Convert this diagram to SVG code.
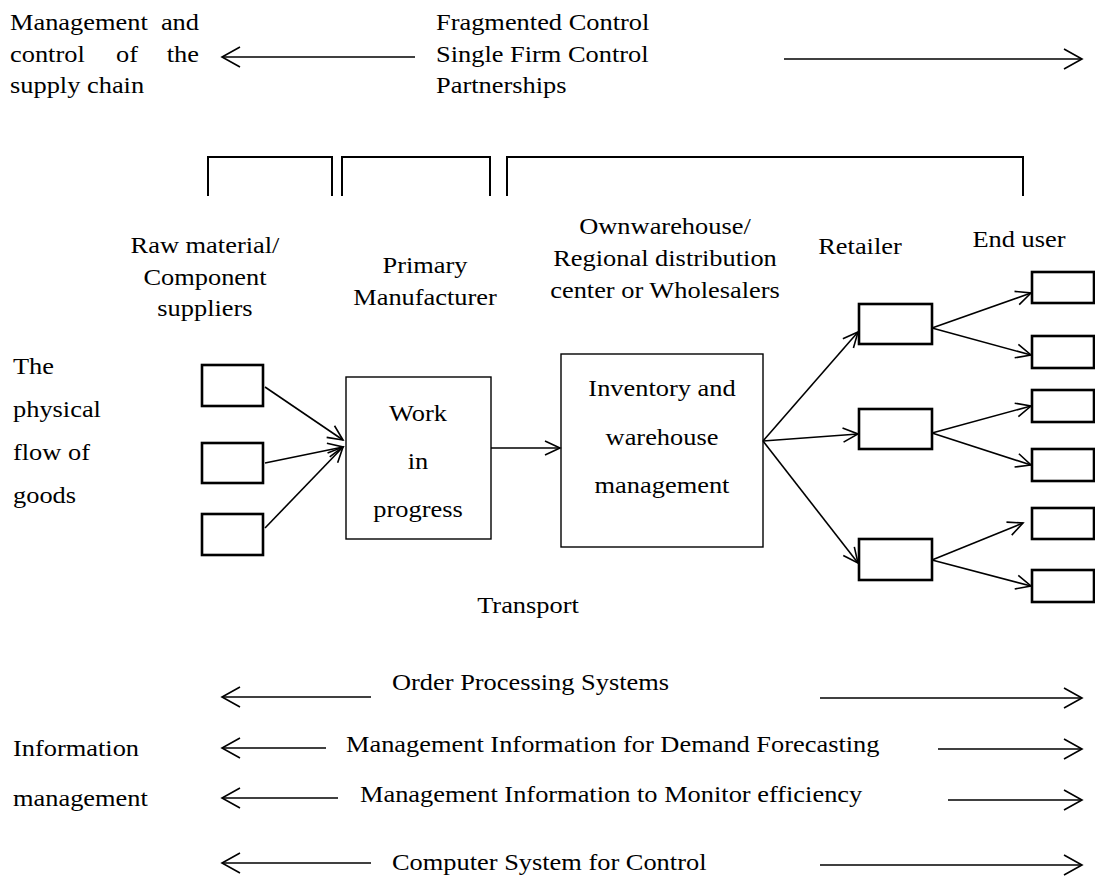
<svg xmlns="http://www.w3.org/2000/svg" width="1095" height="878" viewBox="0 0 1095 878">
<style>
text{font-family:"Liberation Serif","Times New Roman",serif;font-size:24px;fill:#000}
.m{text-anchor:middle}
.e{text-anchor:end}
.line{stroke:#000;stroke-width:1.6;fill:none}
.big{stroke:#000;stroke-width:1.6;fill:none}
.brk{stroke:#000;stroke-width:2;fill:none}
.sb{fill:#fff;stroke:#000;stroke-width:2.6}
.bb{fill:#fff;stroke:#000;stroke-width:1.4}
</style>
<defs>
<marker id="ah" viewBox="-18 -10 20 20" refX="0" refY="0" markerWidth="20" markerHeight="20" markerUnits="userSpaceOnUse" orient="auto-start-reverse">
<path d="M-15 -7 L0 0 L-15 7" fill="none" stroke="#000" stroke-width="1.6"/>
</marker>
<marker id="ahb" viewBox="-20 -12 22 24" refX="0" refY="0" markerWidth="22" markerHeight="24" markerUnits="userSpaceOnUse" orient="auto-start-reverse">
<path d="M-18 -10 L0 0 L-18 10" fill="none" stroke="#000" stroke-width="1.6"/>
</marker>
</defs>

<g id="title-left">
<text transform="translate(10,30) scale(1.1,1)">Management</text>
<text class="e" transform="translate(199,30) scale(1.1,1)">and</text>
<text transform="translate(10,62) scale(1.1,1)">control</text>
<text transform="translate(116,62) scale(1.1,1)">of</text>
<text class="e" transform="translate(199,62) scale(1.1,1)">the</text>
<text transform="translate(10,93) scale(1.1,1)">supply chain</text>
</g>
<g id="title-center">
<text transform="translate(436,30) scale(1.1,1)">Fragmented Control</text>
<text transform="translate(436,62) scale(1.1,1)">Single Firm Control</text>
<text transform="translate(436,93) scale(1.1,1)">Partnerships</text>
</g>

<g id="brackets">
<path class="brk" d="M208 196 V157 H332 V196"/>
<path class="brk" d="M342 196 V157 H490 V196"/>
<path class="brk" d="M507 196 V157 H1023 V196"/>
</g>

<g id="stage-labels">
<text class="m" transform="translate(205,253) scale(1.1,1)">Raw material/</text>
<text class="m" transform="translate(205,285) scale(1.1,1)">Component</text>
<text class="m" transform="translate(205,316) scale(1.1,1)">suppliers</text>
<text class="m" transform="translate(425,273) scale(1.1,1)">Primary</text>
<text class="m" transform="translate(425,305) scale(1.1,1)">Manufacturer</text>
<text class="m" transform="translate(665,234) scale(1.1,1)">Ownwarehouse/</text>
<text class="m" transform="translate(665,266) scale(1.1,1)">Regional distribution</text>
<text class="m" transform="translate(665,298) scale(1.1,1)">center or Wholesalers</text>
<text class="m" transform="translate(860,254) scale(1.1,1)">Retailer</text>
<text class="m" transform="translate(1019,247) scale(1.1,1)">End user</text>
</g>

<g id="physical-label">
<text transform="translate(13,374) scale(1.1,1)">The</text>
<text transform="translate(13,417) scale(1.1,1)">physical</text>
<text transform="translate(13,460) scale(1.1,1)">flow of</text>
<text transform="translate(13,503) scale(1.1,1)">goods</text>
</g>

<g id="suppliers">
<rect class="sb" x="202" y="365" width="61" height="41"/>
<rect class="sb" x="202" y="443" width="61" height="40"/>
<rect class="sb" x="202" y="514" width="61" height="41"/>
</g>

<g id="work-in-progress">
<rect class="bb" x="346" y="377" width="145" height="162"/>
<text class="m" transform="translate(418,421) scale(1.1,1)">Work</text>
<text class="m" transform="translate(418,469) scale(1.1,1)">in</text>
<text class="m" transform="translate(418,517) scale(1.1,1)">progress</text>
</g>

<g id="inventory">
<rect class="bb" x="561" y="354" width="202" height="193"/>
<text class="m" transform="translate(662,396) scale(1.1,1)">Inventory and</text>
<text class="m" transform="translate(662,445) scale(1.1,1)">warehouse</text>
<text class="m" transform="translate(662,493) scale(1.1,1)">management</text>
</g>

<g id="retailers">
<rect class="sb" x="859" y="304" width="73" height="40"/>
<rect class="sb" x="859" y="409" width="73" height="40"/>
<rect class="sb" x="859" y="539" width="73" height="41"/>
</g>

<g id="end-users">
<rect class="sb" x="1032" y="272" width="62" height="31"/>
<rect class="sb" x="1032" y="336" width="62" height="32"/>
<rect class="sb" x="1032" y="390" width="62" height="32"/>
<rect class="sb" x="1032" y="449" width="62" height="32"/>
<rect class="sb" x="1032" y="508" width="62" height="31"/>
<rect class="sb" x="1032" y="570" width="62" height="32"/>
</g>

<g id="transport-label">
<text class="m" transform="translate(528,613) scale(1.1,1)">Transport</text>
</g>

<g id="info-label">
<text transform="translate(13,756) scale(1.1,1)">Information</text>
<text transform="translate(13,806) scale(1.1,1)">management</text>
</g>

<g id="info-rows">
<text transform="translate(392,690) scale(1.1,1)">Order Processing Systems</text>
<text transform="translate(346,752) scale(1.1,1)">Management Information for Demand Forecasting</text>
<text transform="translate(360,802) scale(1.1,1)">Management Information to Monitor efficiency</text>
<text transform="translate(392,870) scale(1.1,1)">Computer System for Control</text>
</g>

<g id="connectors">
<line class="big" x1="415" y1="57" x2="222" y2="57" marker-end="url(#ahb)"/>
<line class="big" x1="784" y1="59" x2="1082" y2="59" marker-end="url(#ahb)"/>

<line class="line" x1="265" y1="387" x2="343" y2="440" marker-end="url(#ah)"/>
<line class="line" x1="265" y1="463" x2="343" y2="447" marker-end="url(#ah)"/>
<line class="line" x1="265" y1="528" x2="343" y2="447" marker-end="url(#ah)"/>
<line class="line" x1="491" y1="448" x2="560" y2="448" marker-end="url(#ah)"/>
<line class="line" x1="763" y1="441" x2="858" y2="332" marker-end="url(#ah)"/>
<line class="line" x1="763" y1="441" x2="858" y2="434" marker-end="url(#ah)"/>
<line class="line" x1="763" y1="441" x2="858" y2="563" marker-end="url(#ah)"/>
<line class="line" x1="932" y1="328" x2="1031" y2="293" marker-end="url(#ah)"/>
<line class="line" x1="932" y1="328" x2="1031" y2="355" marker-end="url(#ah)"/>
<line class="line" x1="932" y1="433" x2="1031" y2="406" marker-end="url(#ah)"/>
<line class="line" x1="932" y1="433" x2="1031" y2="465" marker-end="url(#ah)"/>
<line class="line" x1="932" y1="560" x2="1023" y2="523" marker-end="url(#ah)"/>
<line class="line" x1="932" y1="560" x2="1031" y2="586" marker-end="url(#ah)"/>

<line class="big" x1="371" y1="697" x2="222" y2="697" marker-end="url(#ahb)"/>
<line class="big" x1="820" y1="698" x2="1082" y2="698" marker-end="url(#ahb)"/>
<line class="big" x1="326" y1="748" x2="222" y2="748" marker-end="url(#ahb)"/>
<line class="big" x1="938" y1="749" x2="1082" y2="749" marker-end="url(#ahb)"/>
<line class="big" x1="338" y1="798" x2="222" y2="798" marker-end="url(#ahb)"/>
<line class="big" x1="948" y1="800" x2="1082" y2="800" marker-end="url(#ahb)"/>
<line class="big" x1="371" y1="863" x2="222" y2="863" marker-end="url(#ahb)"/>
<line class="big" x1="820" y1="865" x2="1082" y2="865" marker-end="url(#ahb)"/>
</g>
</svg>
